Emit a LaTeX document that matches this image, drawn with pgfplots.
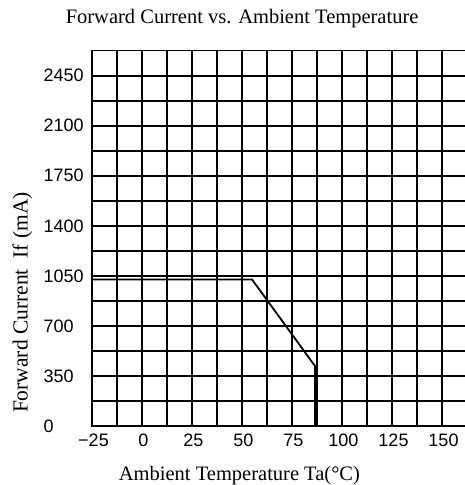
\documentclass[border=0pt]{standalone}
\usepackage{fontspec}
\setmainfont{Liberation Serif}
\newfontfamily\arialfont{Liberation Sans}
\usepackage{pgfplots}
\pgfplotsset{compat=1.18}
\begin{document}
\begin{tikzpicture}
\begin{axis}[
 at={(0,0)}, anchor=south west,
 scale only axis, width=380pt, height=375.3pt,
 xmin=-25, xmax=165, ymin=0, ymax=2625,
 xtick={-25,0,...,150}, minor xtick={-12.5,12.5,...,162.5},
 xticklabels={−25,0,25,50,75,100,125,150},
 ytick={0,350,...,2450}, minor ytick={175,525,...,2625},
 yticklabels={\raisebox{-4pt}{0},350,700,1050,1400,1750,2100,2450},
 grid=both,
 major grid style={black, line width=1.6pt},
 minor grid style={black, line width=1.6pt},
 axis line style={black, line width=1.6pt},
 major tick length=0pt, minor tick length=0pt,
 tick label style={font=\arialfont\fontsize{18}{20}\selectfont, inner sep=0pt},
 xticklabel style={anchor=north, yshift=-8pt, xshift=1.5pt},
 yticklabel style={anchor=west, xshift=-48.5pt},
 title={Forward Current vs. Ambient Temperature},
 title style={font=\fontsize{20.5}{24}\selectfont, at={(axis description cs:0.395,1.0578)}, anchor=base, inner sep=0pt},
 xlabel={Ambient Temperature Ta(°C)},
 xlabel style={font=\fontsize{20.5}{24}\selectfont, at={(axis description cs:0.388,-0.1439)}, anchor=base, inner sep=0pt},
 ylabel={Forward Current\ \ If (mA)},
 ylabel style={font=\fontsize{21.5}{24}\selectfont, at={(axis description cs:-0.1697,0.329)}, anchor=base, rotate=0, inner sep=0pt},
]
\addplot[black, line width=1.8pt, line join=miter] coordinates {(-25,1025) (55,1025) (87,410)};
\addplot[black, line width=3.6pt] coordinates {(87,410) (87,0)};
\end{axis}
\pgfresetboundingbox
\path[use as bounding box] (-92pt,-59pt) rectangle (373pt,426pt);
\end{tikzpicture}
\end{document}
